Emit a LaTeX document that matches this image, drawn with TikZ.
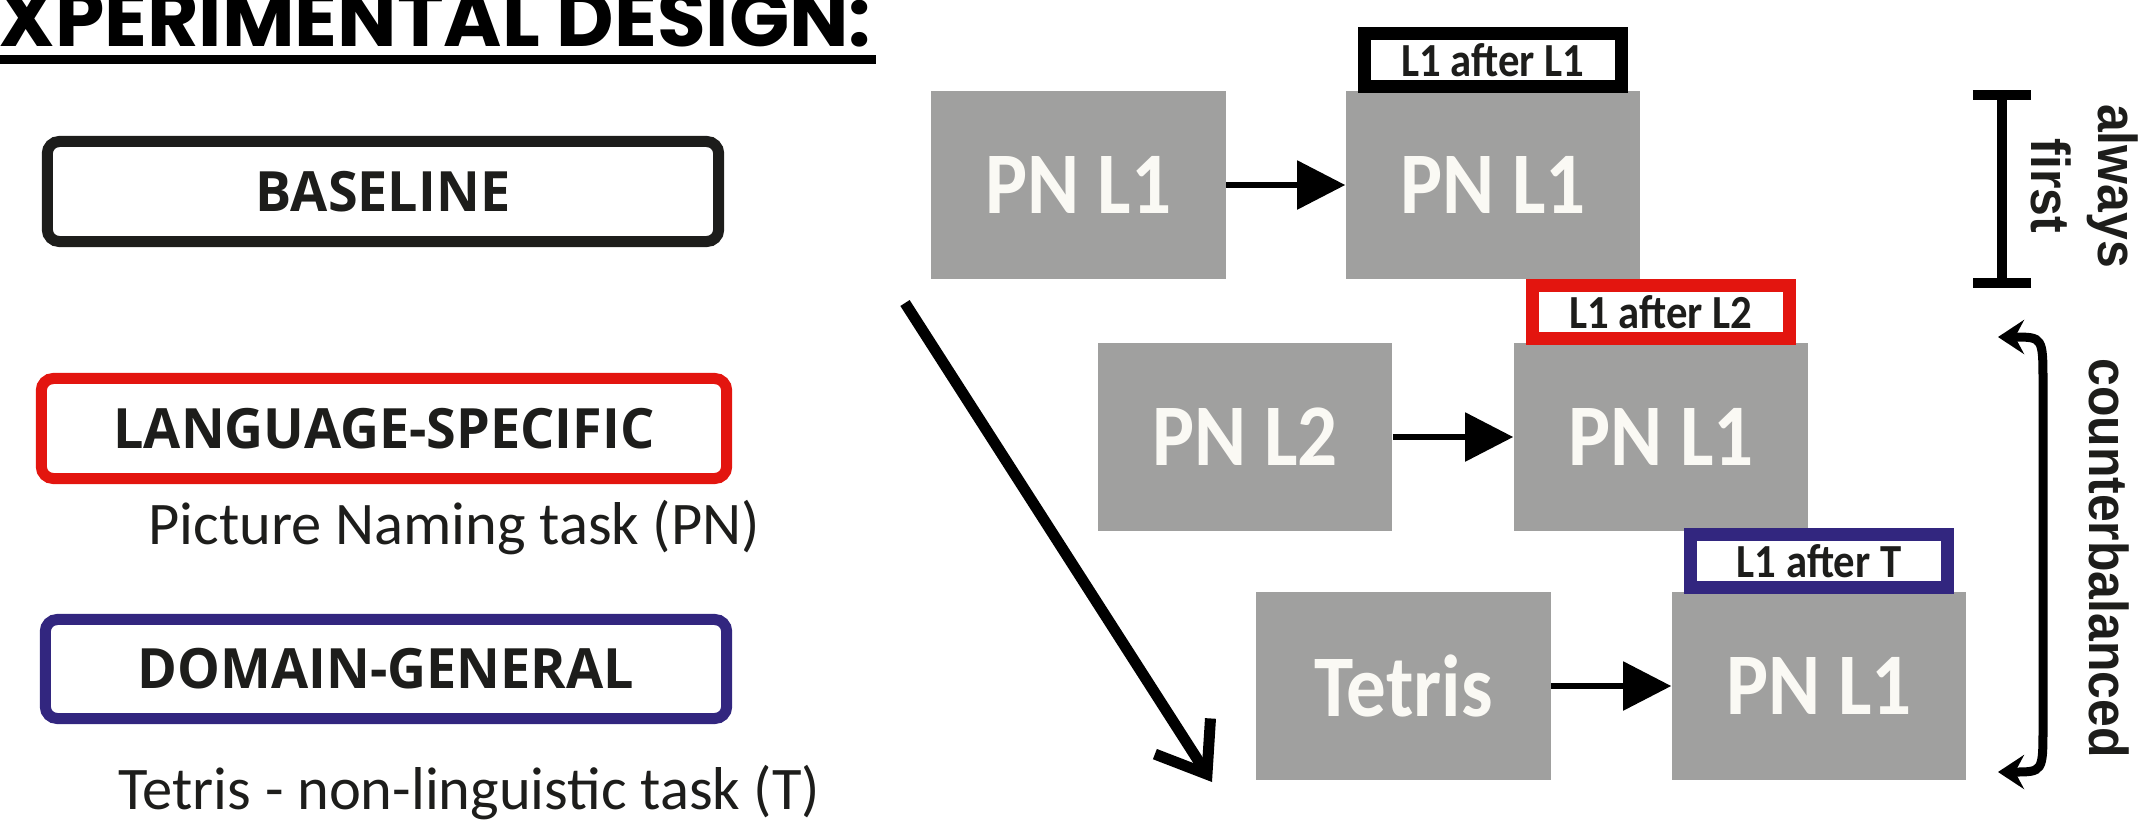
\documentclass[tikz,border=0pt]{standalone}
\usepackage{fontspec}
\setmainfont{Carlito}
\newfontfamily\narrowfont[FakeStretch=0.9]{Carlito}
\newfontfamily\headfont{Poppins}
\newfontfamily\capsfont[FakeStretch=0.97]{Open Sans}
\newfontfamily\sidefont[FakeStretch=0.91]{Liberation Sans}
\usetikzlibrary{%
  arrows.meta,%
  positioning%
}
\definecolor{boxgray}{RGB}{160,160,159}
\definecolor{inkblack}{RGB}{29,29,27}
\definecolor{condred}{RGB}{227,21,15}
\definecolor{condblue}{RGB}{50,38,127}
\definecolor{boxwhite}{RGB}{250,249,244}
\tikzset{>=Latex,
  catbox/.style={draw=#1, line width=0.11cm, rounded corners=0.12cm,
    minimum height=1cm, inner sep=0, text=inkblack,
    font=\capsfont\bfseries\fontsize{15.8}{18}\selectfont},
  taskbox/.style={fill=boxgray, minimum width=2.94cm, minimum height=1.88cm,
    inner sep=0, text=boxwhite, font=\narrowfont\bfseries\fontsize{25}{29}\selectfont},
  afterlbl/.style={draw=#1, fill=white, line width=0.13cm, minimum width=2.57cm,
    minimum height=0.53cm, inner sep=0, text=inkblack,
    font=\narrowfont\bfseries\fontsize{13.5}{16}\selectfont},
  plaintext/.style={anchor=base west, inner sep=0, text=inkblack,
    font=\fontsize{17.2}{21}\selectfont},
  sidetext/.style={rotate=-90, inner sep=0, text=inkblack,
    font=\sidefont\bfseries\fontsize{15.6}{19}\selectfont},
  flow/.style={line width=0.055cm, -{Triangle[length=0.48cm,width=0.48cm]}}
}

\begin{document}
\begin{tikzpicture}[x=0.01cm,y=-0.01cm]
    \useasboundingbox (0,0) rectangle (2141,820);
    \clip (0,0) rectangle (2141,820);
    \node[anchor=base east, inner sep=0, font=\headfont\bfseries\fontsize{22.5}{27}\selectfont]
      (title) at (872,46) {XPERIMENTAL DESIGN:};
    \draw[line width=0.09cm] (0,59) -- (876,59);

    \node[catbox=inkblack, minimum width=6.71cm] (base) at (383,191.5) {BASELINE};
    \node[catbox=condred, minimum width=6.85cm] (lang) at (384,428.5) {LANGUAGE-SPECIFIC};
    \node[plaintext] (pntask) at (148,544) {Picture Naming task (PN)};
    \node[catbox=condblue, minimum width=6.81cm, minimum height=0.99cm] (dom) at (386,669) {DOMAIN-GENERAL};
    \node[plaintext] (ttask) at (118,809) {Tetris - non-linguistic task (T)};

    \node[taskbox] (a1) at (1078.5,185) {PN L1};
    \node[taskbox] (b1) at (1493,185) {PN L1};
    \node[taskbox] (a2) at (1245,437) {PN L2};
    \node[taskbox] (b2) at (1661,437) {PN L1};
    \node[taskbox] (a3) at (1403.5,686) {Tetris};
    \node[taskbox] (b3) at (1819,686) {PN L1};
    \node[afterlbl=black, above=-0.03cm of b1] (l1) {L1 after L1};
    \node[afterlbl=condred, above=-0.03cm of b2] (l2) {L1 after L2};
    \node[afterlbl=condblue, above=-0.03cm of b3] (l3) {L1 after T};
    \draw[flow] (a1) -- (b1);
    \draw[flow] (a2) -- (b2);
    \draw[flow] (a3) -- (b3);

    \coordinate (dstart) at (905,303);
    \coordinate (dend) at (1212,782);
    \draw[line width=0.11cm, -{Straight Barb[length=0.45cm,width=0.66cm,sharp]}] (dstart) -- (dend);

    \coordinate (aftop) at (2002,90);
    \coordinate (afbot) at (2002,288);
    \draw[line width=0.1cm, {Bar[width=0.58cm]}-{Bar[width=0.58cm]}] (aftop) -- (afbot);
    \node[sidetext, align=center] (always) at (2085,186) {always\\first};

    \coordinate (cbtop) at (1998,337);
    \coordinate (cbbot) at (1998,772);
    \draw[line width=0.09cm, {Stealth[length=0.26cm,width=0.34cm,inset=0.09cm]}-{Stealth[length=0.26cm,width=0.34cm,inset=0.09cm]}]
      (cbtop) .. controls (2043,337) .. (2043,383) -- (2043,727) .. controls (2043,772) .. (cbbot);
    \node[sidetext, anchor=base] (cbtext) at (2089,558) {counterbalanced};
\end{tikzpicture}
\end{document}
